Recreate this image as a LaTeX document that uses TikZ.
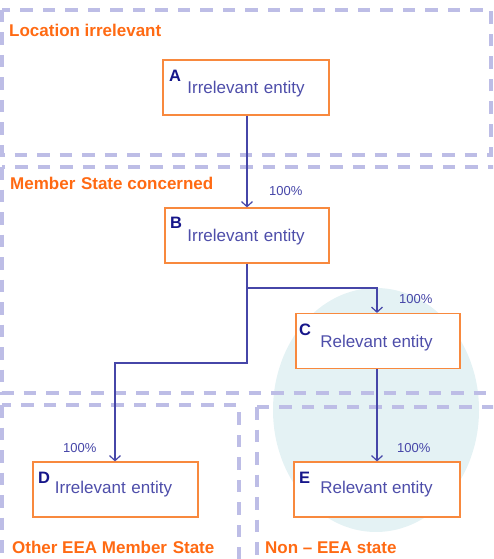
\documentclass[tikz,border=0pt]{standalone}
\usepackage{fontspec}
\setmainfont{Liberation Sans}
\usetikzlibrary{arrows.meta}
\definecolor{regorange}{HTML}{FF6A13}
\definecolor{boxorange}{HTML}{F8893E}
\definecolor{dashlav}{HTML}{BDBDE6}
\definecolor{arrowblue}{HTML}{4646A8}
\definecolor{txtblue}{HTML}{4E4EAA}
\definecolor{letnavy}{HTML}{16168A}
\definecolor{teal}{HTML}{E4F2F4}
\tikzset{
  region/.style={draw=dashlav, line width=3.1pt, dash pattern=on 12.5pt off 10pt},
  regionlabel/.style={anchor=base west, inner sep=0pt, text=regorange, font=\fontsize{17}{20}\selectfont\bfseries},
  entity/.style={draw=boxorange, line width=1.2pt, fill=white, minimum width=#1, minimum height=55pt, inner sep=0pt},
  letter/.style={anchor=north west, inner sep=0pt, text=letnavy, font=\fontsize{16.5}{19}\selectfont\bfseries},
  etext/.style={inner sep=0pt, text=txtblue, font=\fontsize{17}{20}\selectfont},
  pct/.style={anchor=base west, inner sep=0pt, text=arrowblue, font=\fontsize{13}{16}\selectfont},
  conn/.style={draw=arrowblue, line width=1.2pt, -{Straight Barb[length=5pt,width=11pt,line width=1.2pt]}},
}
\begin{document}
\begin{tikzpicture}[x=1pt,y=-1pt]
\useasboundingbox (0,0) rectangle (493,559);
\clip (0,0) rectangle (493,559);
% highlight ellipse
\fill[teal] (376,410) ellipse [x radius=103, y radius=122];
% regions
\draw[region] (2,10) rectangle (491,155);
\draw[region] (2,167) rectangle (520,393);
\draw[region] (2,405) rectangle (239,600);
\draw[region] (257,407) rectangle (520,600);
\node[regionlabel] (r1) at (9,36.5) {Location irrelevant};
\node[regionlabel] (r2) at (10,189) {Member\,\,State concerned};
\node[regionlabel] (r3) at (12,553) {Other EEA Member\,\,State};
\node[regionlabel] (r4) at (265,553) {Non – EEA state};
% entities
\node[entity=166pt] (A) at (246,87.5) {};
\node[entity=164pt] (B) at (247,235.5) {};
\node[entity=164pt] (C) at (378,341) {};
\node[entity=165pt] (D) at (115.5,489.5) {};
\node[entity=166pt] (E) at (377,489.5) {};
\node[letter] (lA) at (169,70) {A};
\node[letter] (lB) at (170,217) {B};
\node[letter] (lC) at (299,324) {C};
\node[letter] (lD) at (38,472) {D};
\node[letter] (lE) at (299,472) {E};
\node[etext] (tA) at (246,89) {Irrelevant\,\,entity};
\node[etext] (tB) at (246,237) {Irrelevant\,\,entity};
\node[etext] (tC) at (376.5,343) {Relevant entity};
\node[etext] (tD) at (113.5,489) {Irrelevant\,\,entity};
\node[etext] (tE) at (376.5,489) {Relevant entity};
% connectors
\coordinate (j) at (247,288);
\draw[conn] (A.south -| j) -- (B.north -| j);
\draw[conn] (B.south -| j) -- (j) -| (C.north -| 377,0);
\draw[conn] (j) -- (247,363) -| (D.north -| 115,0);
\draw[conn] (C.south -| 377,0) -- (E.north -| 377,0);
\node[pct] (p1) at (269,195) {100\%};
\node[pct] (p2) at (399,303) {100\%};
\node[pct] (p3) at (63,452) {100\%};
\node[pct] (p4) at (397,452) {100\%};
\end{tikzpicture}
\end{document}
